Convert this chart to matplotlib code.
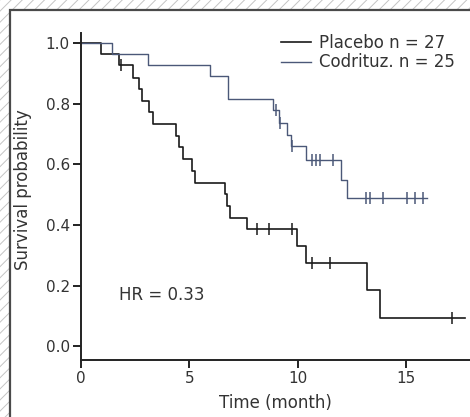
import matplotlib
matplotlib.use("Agg")
import matplotlib.pyplot as plt
from matplotlib.patches import Rectangle
import numpy as np

# Kaplan-Meier step data
placebo_t = [0, 0.92, 1.75, 2.42, 2.68, 2.8, 3.15, 3.3, 4.4, 4.5, 4.72, 5.1, 5.26,
             6.65, 6.75, 6.88, 7.68, 9.95, 10.4, 13.18, 13.8]
placebo_s = [1.0, 0.963, 0.927, 0.887, 0.849, 0.810, 0.772, 0.733, 0.694, 0.656, 0.617,
             0.579, 0.540, 0.502, 0.463, 0.424, 0.386, 0.331, 0.276, 0.184, 0.092]
placebo_end = 17.72
placebo_cens = [1.83, 8.11, 8.69, 9.72, 10.65, 11.49, 17.1]

codr_t = [0, 1.42, 3.09, 5.95, 6.8, 8.85, 9.14, 9.52, 9.68, 10.38, 11.98, 12.26]
codr_s = [1.0, 0.963, 0.927, 0.892, 0.817, 0.779, 0.737, 0.698, 0.661, 0.614, 0.55, 0.489]
codr_end = 15.95
codr_cens = [9.0, 9.16, 9.72, 10.65, 10.85, 11.03, 11.64, 13.14, 13.34, 13.92,
             15.06, 15.42, 15.8]

labels = ["Placebo n = 27", "Codrituz. n = 25"]
colors = ["#1a1a1a", "#4b5878"]
hr_text = "HR = 0.33"

plt.rcParams["font.family"] = "DejaVu Sans"
plt.rcParams["hatch.linewidth"] = 0.7
txt = "#333333"

fig = plt.figure(figsize=(4.7, 4.17), dpi=100)

# hatched page background with white framed panel
fig.patches.append(Rectangle((0, 0), 1, 1, transform=fig.transFigure, facecolor="white",
                             edgecolor="#c4c4c4", linewidth=0, hatch="///", zorder=-3))
fig.patches.append(Rectangle((10 / 470, -0.05), 1.0, 1 - 10 / 417 + 0.05,
                             transform=fig.transFigure, facecolor="white",
                             edgecolor="#4a4a4a", linewidth=1.6, zorder=-2))

ax = fig.add_axes([81 / 470, 57 / 417, 389 / 470, 327 / 417])
ax.patch.set_alpha(0)


def km(ax, t, s, end, cens, color, lw, label):
    xs = np.append(t, end)
    ys = np.append(s, s[-1])
    ax.step(xs, ys, where="post", color=color, lw=lw, label=label)
    idx = np.searchsorted(t, cens, side="right") - 1
    ax.plot(cens, np.array(s)[idx], ls="none", marker="|", ms=8, mew=1.1, color=color)


km(ax, placebo_t, placebo_s, placebo_end, placebo_cens, colors[0], 1.2, labels[0])
km(ax, codr_t, codr_s, codr_end, codr_cens, colors[1], 1.0, labels[1])

ax.set_xlim(0, 17.95)
ax.set_ylim(-0.046, 1.034)
ax.set_xticks([0, 5, 10, 15])
ax.set_yticks([0.0, 0.2, 0.4, 0.6, 0.8, 1.0])
ax.set_yticklabels(["0.0", "0.2", "0.4", "0.6", "0.8", "1.0"])
for side in ["top", "right"]:
    ax.spines[side].set_visible(False)
for side in ["left", "bottom"]:
    ax.spines[side].set_linewidth(1.4)
    ax.spines[side].set_color("#222222")
ax.tick_params(direction="out", length=6, width=1.4, color="#222222", pad=2,
               labelsize=11, labelcolor=txt)

ax.set_xlabel("Time (month)", fontsize=12, color=txt, va="top")
ax.xaxis.set_label_coords(0.5, -0.103)
ax.set_ylabel("Survival probability", fontsize=12, color=txt)
ax.yaxis.set_label_coords(-0.126, 0.52)

ax.text(0.098, 0.199, hr_text, transform=ax.transAxes, fontsize=12, color=txt,
        ha="left", va="center")

leg = ax.legend(loc="center left", bbox_to_anchor=(0.494, 0.94), frameon=False,
                fontsize=12, borderpad=0, handlelength=1.75, handletextpad=0.5,
                labelspacing=0.1)
for t in leg.get_texts():
    t.set_color(txt)

fig.savefig("out.png", dpi=100)
